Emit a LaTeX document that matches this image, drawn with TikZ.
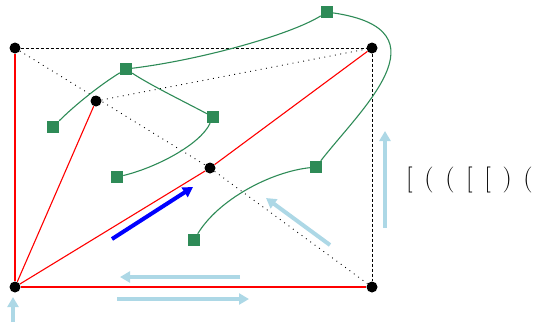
\documentclass[tikz,border=0pt]{standalone}
\usetikzlibrary{arrows.meta}
\definecolor{sgreen}{RGB}{46,139,87}
\definecolor{lblue}{RGB}{173,216,230}
\begin{document}
\begin{tikzpicture}[x=1pt,y=-1pt,
  dot/.style={circle,fill=black,minimum size=11pt,inner sep=0pt},
  sq/.style={rectangle,fill=sgreen,minimum size=12pt,inner sep=0pt},
  redline/.style={red,line width=1.1pt},
  grline/.style={sgreen,line width=1.1pt},
  dashline/.style={black,line width=0.8pt,dash pattern=on 3pt off 2pt},
  dotline/.style={black,line width=0.9pt,dash pattern=on 0.9pt off 4.5pt},
  lbarrow/.style={lblue,line width=4pt,-{Triangle[width=11pt,length=10pt]}},
  barrow/.style={blue,line width=4pt,-{Triangle[width=11pt,length=10pt]}}]
\useasboundingbox (0,0) rectangle (541,322);
% black dots
\node[dot] (A) at (15,48) {};
\node[dot] (B) at (372,48) {};
\node[dot] (C) at (96,101) {};
\node[dot] (D) at (210,168) {};
\node[dot] (E) at (15,287) {};
\node[dot] (F) at (372,287) {};
% green squares
\node[sq] (S1) at (327,12) {};
\node[sq] (S2) at (126,69) {};
\node[sq] (S3) at (53,127) {};
\node[sq] (S4) at (213,117) {};
\node[sq] (S5) at (117,177) {};
\node[sq] (S6) at (316,167) {};
\node[sq] (S7) at (194,240) {};
% red lines
\draw[redline] (A) -- (E);
\draw[redline] (E) -- (F);
\draw[redline] (E) -- (C);
\draw[redline] (E) -- (D);
\draw[redline] (D) -- (B);
% dashed and dotted
\draw[dashline] (A) -- (B);
\draw[dashline] (B) -- (F);
\draw[dotline] (A) -- (D);
\draw[dotline] (D) -- (F);
\draw[dotline] (C) -- (B);
% green curves
\draw[grline] (S3) .. controls (75,105) and (100,85) .. (S2);
\draw[grline] (S2) .. controls (200,60) and (290,35) .. (S1);
\draw[grline] (S2) .. controls (150,85) and (185,102) .. (S4);
\draw[grline] (S4) .. controls (200,145) and (155,168) .. (S5);
\draw[grline] (S1) .. controls (450,30) and (360,110) .. (S6);
\draw[grline] (S6) .. controls (270,172) and (218,200) .. (S7);
% arrows
\coordinate (b1) at (112,239); \coordinate (b2) at (193,187);
\draw[barrow] (b1) -- (b2);
\coordinate (u1) at (13,322); \coordinate (u2) at (13,297);
\draw[lbarrow] (u1) -- (u2);
\coordinate (l1) at (240,277); \coordinate (l2) at (120,277);
\draw[lbarrow] (l1) -- (l2);
\coordinate (r1) at (117,299); \coordinate (r2) at (249,299);
\draw[lbarrow] (r1) -- (r2);
\coordinate (d1) at (330,245); \coordinate (d2) at (266,198);
\draw[lbarrow] (d1) -- (d2);
\coordinate (v1) at (385,228); \coordinate (v2) at (385,131);
\draw[lbarrow] (v1) -- (v2);
% text
\node[anchor=base west,inner sep=0pt] (T) at (406,186) {\fontsize{26}{30}\selectfont\spaceskip=0.45em [ ( ( [ [ ) (};
\end{tikzpicture}
\end{document}
